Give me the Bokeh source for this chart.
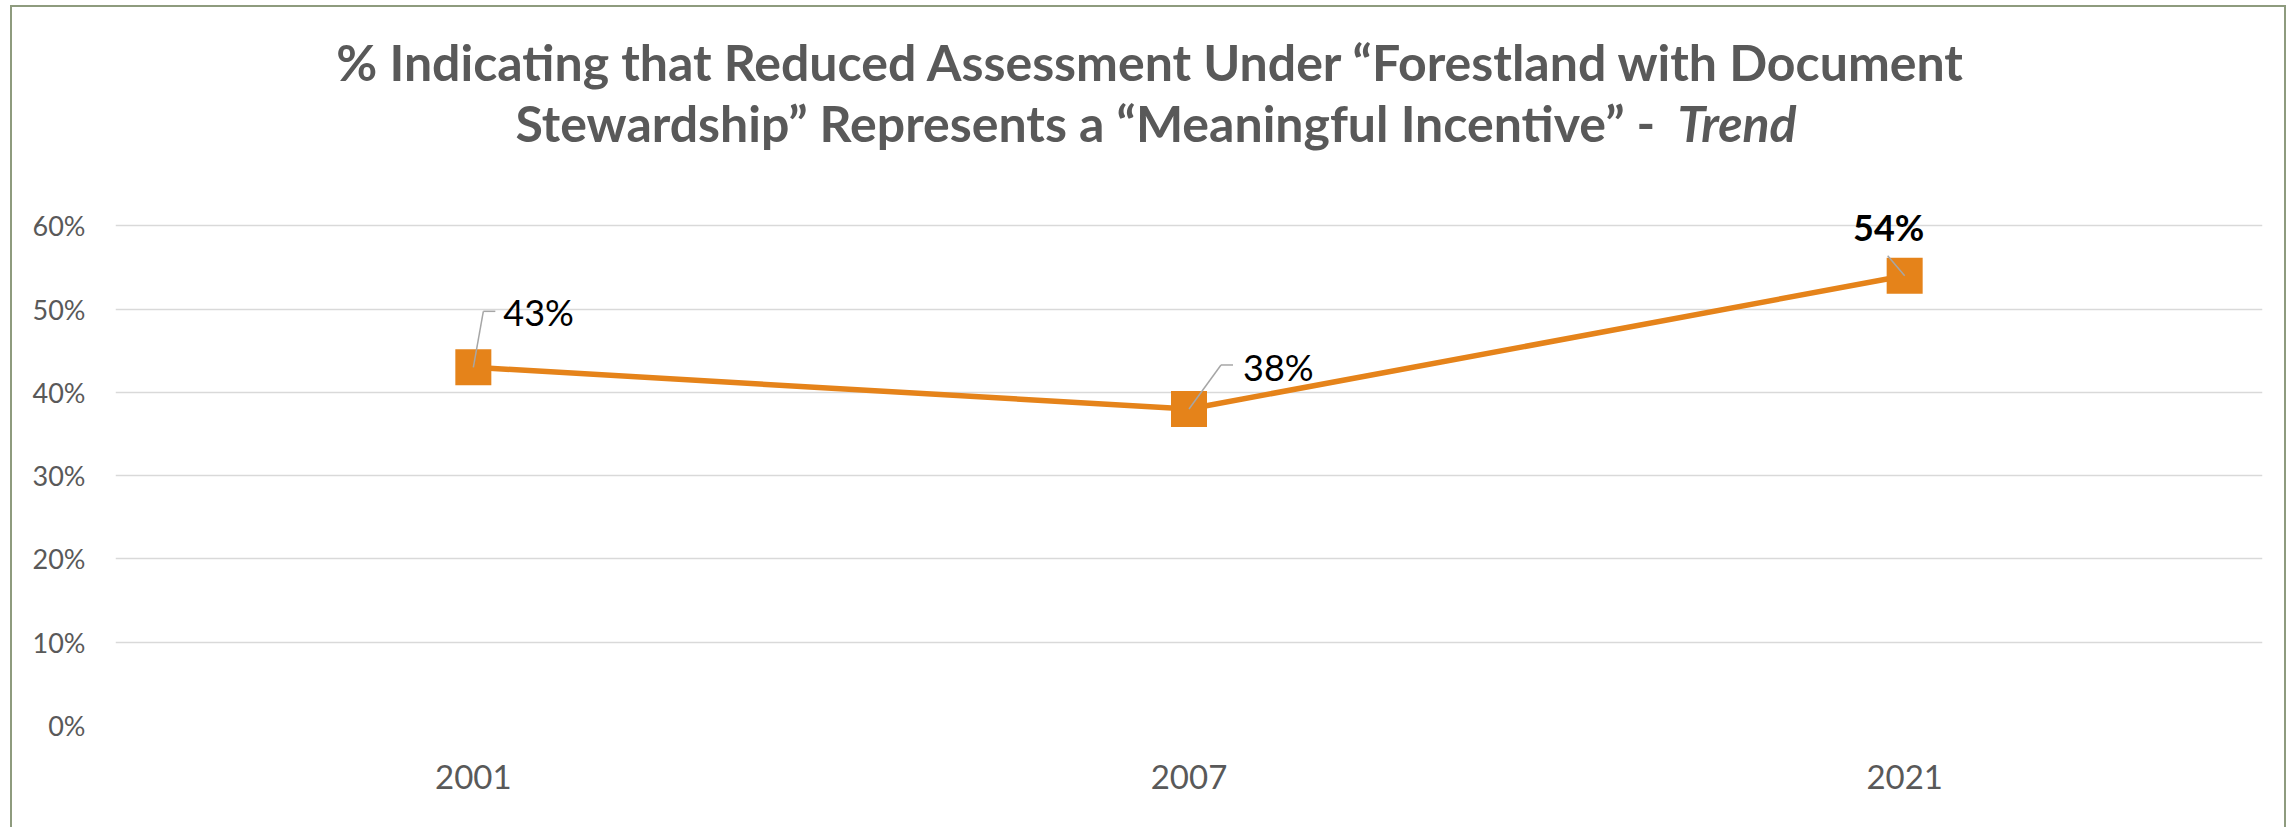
from bokeh.plotting import figure
from bokeh.models import Range1d, FixedTicker, NumeralTickFormatter, ColumnDataSource
from bokeh.core.properties import value
from bokeh.embed import file_html
from bokeh.resources import INLINE

# ---- data ----
years = ["2001", "2007", "2021"]
pct = [0.43, 0.38, 0.54]
pct_labels = ["43%", "38%", "54%"]
label_styles = ["normal", "normal", "bold"]
y_ticks = [0.0, 0.1, 0.2, 0.3, 0.4, 0.5, 0.6]
title_line1 = "% Indicating that Reduced Assessment Under \u201cForestland with Document"
title_line2a = "Stewardship\u201d Represents a \u201cMeaningful Incentive\u201d -"
title_line2b = "Trend"

# ---- style / layout ----
FONT = "Lato"
ORANGE = "#E5831A"
GREY_TXT = "#595959"
BORDER = "#8E9B7E"
W, H = 2276, 822
ML, MR, MT, MB = 103, 26, 10, 104
Y_END = 0.85          # frame extends up so the title can sit inside it
frame_w = W - ML - MR
frame_h = H - MT - MB
px_per_x = frame_w / len(years)
px_per_y = frame_h / Y_END
FX0, FY0 = 115, 725   # frame left / bottom in page pixels

# label placement (screen px, relative to point; y up positive)
label_dx = [30, 54, -16]
label_dy = [55, 42, 49]
label_align = ["left", "left", "center"]
leader_pts = [[(0, 0), (10, 56), (22, 56)],
              [(0, 0), (32, 44), (44, 44)],
              [(0, 0), (-17, 20)]]

xs = [i + 0.5 for i in range(len(years))]

p = figure(width=W, height=H, output_backend="svg", toolbar_location=None,
           x_range=Range1d(0, len(years)), y_range=Range1d(0, Y_END),
           min_border_left=ML, min_border_right=MR,
           min_border_top=MT, min_border_bottom=MB, title=None)
p.styles = {"margin-left": "10px", "margin-top": "5px",
            "border-top": f"2px solid {BORDER}",
            "border-left": f"2px solid {BORDER}",
            "border-right": f"2px solid {BORDER}"}
p.outline_line_color = None
p.background_fill_color = "white"
p.border_fill_color = "white"

# axes
p.xaxis.ticker = FixedTicker(ticks=xs)
p.xaxis.major_label_overrides = {x: y for x, y in zip(xs, years)}
p.yaxis.ticker = FixedTicker(ticks=y_ticks)
p.yaxis.formatter = NumeralTickFormatter(format="0%")
for ax in (p.xaxis, p.yaxis):
    ax.axis_line_color = None
    ax.major_tick_line_color = None
    ax.minor_tick_line_color = None
    ax.major_tick_out = 0
    ax.major_label_text_color = GREY_TXT
    ax.major_label_text_font = FONT
p.xaxis.major_label_text_font_size = "33px"
p.yaxis.major_label_text_font_size = "27px"
p.xaxis.major_label_standoff = 39
p.yaxis.major_label_standoff = 30
p.xgrid.grid_line_color = None
p.ygrid.grid_line_color = "#D9D9D9"
p.ygrid.grid_line_width = 1.5
p.ygrid.ticker = FixedTicker(ticks=y_ticks)

# series
p.line(xs, pct, line_color=ORANGE, line_width=5.5)
p.scatter(xs, pct, marker="square", size=36, fill_color=ORANGE, line_color=None)

# leader lines
x0s, y0s, x1s, y1s = [], [], [], []
for x, y, pts in zip(xs, pct, leader_pts):
    for (ax_, ay_), (bx_, by_) in zip(pts[:-1], pts[1:]):
        x0s.append(x + ax_ / px_per_x)
        y0s.append(y + ay_ / px_per_y)
        x1s.append(x + bx_ / px_per_x)
        y1s.append(y + by_ / px_per_y)
p.segment(x0s, y0s, x1s, y1s, line_color="#A6A6A6", line_width=1.5)

# data labels
src = ColumnDataSource(dict(x=xs, y=pct, t=pct_labels, st=label_styles,
                            dx=label_dx, dy=[-d for d in label_dy], al=label_align))
p.text(x="x", y="y", text="t", source=src, x_offset="dx", y_offset="dy",
       text_align="al", text_baseline="middle", text_font=value(FONT),
       text_font_size="36px", text_font_style="st", text_color="black")

# title: two lines, second ends with italic 'Trend'; placed by page pixels
def page_x(px):
    return (px - FX0) / px_per_x
def page_y(py):
    return (FY0 - py) / px_per_y
title_src = ColumnDataSource(dict(
    x=[page_x(1151), page_x(1655), page_x(1677)],
    y=[page_y(61), page_y(122), page_y(122)],
    t=[title_line1, title_line2a, title_line2b],
    al=["center", "right", "left"],
    st=["bold", "bold", "bold italic"]))
p.text(x="x", y="y", text="t", source=title_src, text_align="al",
       text_baseline="alphabetic", text_font=value(FONT), text_font_size="50px",
       text_font_style="st", text_color=GREY_TXT)

open("out.html", "w").write(file_html(p, INLINE))
